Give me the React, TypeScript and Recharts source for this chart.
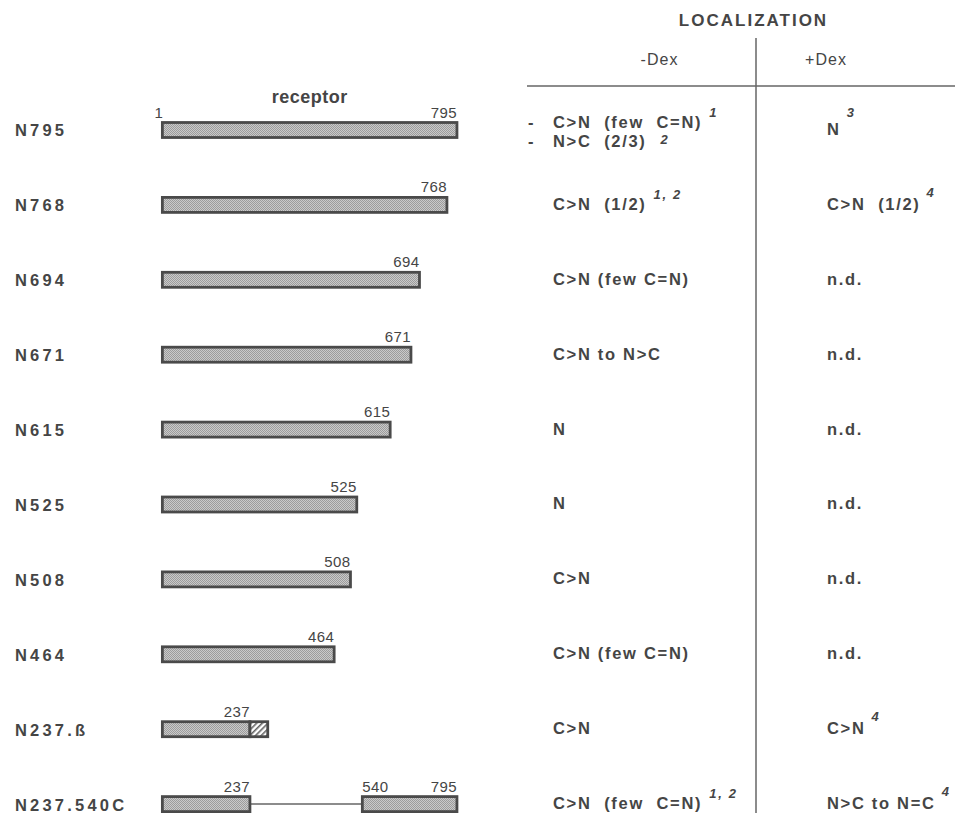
import React from 'react';
import { BarChart, Bar, XAxis, YAxis, LabelList } from 'recharts';

// ---------- data ----------
const constructs = ['N795', 'N768', 'N694', 'N671', 'N615', 'N525', 'N508', 'N464', 'N237.ß', 'N237.540C'];
const segmentStart = [1, 1, 1, 1, 1, 1, 1, 1, 1, 1];
const segmentEnd = [795, 768, 694, 671, 615, 525, 508, 464, 237, 237];
const betaEnd: (number | null)[] = [null, null, null, null, null, null, null, null, 285, null];
const fusionStart: (number | null)[] = [null, null, null, null, null, null, null, null, null, 540];
const fusionEnd: (number | null)[] = [null, null, null, null, null, null, null, null, null, 795];

const minusDexLines = [
  ['C>N  (few  C=N)', 'N>C  (2/3)'],
  ['C>N  (1/2)'],
  ['C>N (few C=N)'],
  ['C>N to N>C'],
  ['N'],
  ['N'],
  ['C>N'],
  ['C>N (few C=N)'],
  ['C>N'],
  ['C>N  (few  C=N)'],
];
const minusDexNotes = [['1', '2'], ['1, 2'], [''], [''], [''], [''], [''], [''], [''], ['1, 2']];
const plusDexText = ['N', 'C>N  (1/2)', 'n.d.', 'n.d.', 'n.d.', 'n.d.', 'n.d.', 'n.d.', 'C>N', 'N>C to N=C'];
const plusDexNotes = ['3', '4', '', '', '', '', '', '', '4', '4'];

const headerTitle = 'LOCALIZATION';
const columnTitles = ['-Dex', '+Dex'];
const barTitle = 'receptor';

// ---------- styles ----------
const FONT = '"Liberation Sans", Arial, Helvetica, sans-serif';
const TEXT = '#454545';
const EDGE = '#4a4a4a';

const data = constructs.map((name, i) => ({
  name,
  main: [segmentStart[i], segmentEnd[i]],
  beta: betaEnd[i] != null ? [segmentEnd[i], betaEnd[i]] : null,
  link: fusionStart[i] != null ? [segmentEnd[i], fusionStart[i]] : null,
  tail: fusionStart[i] != null ? [fusionStart[i], fusionEnd[i]] : null,
}));

const ok = (p: any) => p && Number.isFinite(p.x) && Number.isFinite(p.width) && p.width > 0;

const makeShape = (key: string, fill: string) => (p: any) => {
  if (!ok(p) || !p.payload || p.payload[key] == null) return <g />;
  return <rect x={p.x} y={p.y} width={p.width} height={p.height} fill={fill} stroke={EDGE} strokeWidth={2.8} />;
};

const linkShape = (p: any) => {
  if (!ok(p) || !p.payload || p.payload.link == null) return <g />;
  const cy = p.y + p.height / 2;
  return <line x1={p.x} y1={cy} x2={p.x + p.width} y2={cy} stroke="#666" strokeWidth={1.5} />;
};

const numStyle = { fontFamily: FONT, fontSize: 15, fill: TEXT, letterSpacing: 0.4 } as const;

const mainLabel = (p: any) => {
  const i = constructs.indexOf(p.value);
  if (i < 0 || !ok(p)) return null;
  return (
    <g>
      <text x={p.x + p.width} y={p.y - 5} textAnchor="end" {...numStyle}>{segmentEnd[i]}</text>
      {i === 0 && (
        <>
          <text x={p.x + 1} y={p.y - 5} textAnchor="end" {...numStyle}>{segmentStart[i]}</text>
          <text x={p.x + p.width / 2} y={p.y - 20} textAnchor="middle" fontFamily={FONT} fontSize={18} fontWeight="bold" fill={TEXT} letterSpacing={0.5}>{barTitle}</text>
        </>
      )}
    </g>
  );
};

const tailLabel = (p: any) => {
  const i = constructs.indexOf(p.value);
  if (i < 0 || fusionStart[i] == null || !ok(p)) return null;
  return (
    <g>
      <text x={p.x} y={p.y - 5} textAnchor="start" {...numStyle}>{fusionStart[i]}</text>
      <text x={p.x + p.width} y={p.y - 5} textAnchor="end" {...numStyle}>{fusionEnd[i]}</text>
    </g>
  );
};

const cellStyle = { fontFamily: FONT, fontSize: 16.5, fontWeight: 'bold', fill: TEXT, letterSpacing: 1.7, whiteSpace: 'pre' } as any;
const noteProps = { fontSize: 13, fontStyle: 'italic', fontWeight: 'bold' } as any;

const RowTick = (props: any) => {
  const { y, payload } = props;
  const i = constructs.indexOf(payload.value);
  if (i < 0) return null;
  const lines = minusDexLines[i];
  const multi = lines.length > 1;
  return (
    <g>
      <text x={15} y={y + 6.5} fontFamily={FONT} fontSize={16.5} fontWeight="bold" fill={TEXT} letterSpacing={3.2}>{payload.value}</text>
      {lines.map((ln, k) => {
        const ly = multi ? y - 2 + k * 19 : y + 5;
        const note = minusDexNotes[i][k];
        return (
          <g key={k}>
            {multi && <text x={528} y={ly} style={cellStyle}>-</text>}
            <text x={553} y={ly} style={cellStyle}>
              {ln}
              {note ? (
                <tspan dx={multi && k === 1 ? 14 : 7} dy={multi && k === 1 ? -3 : -11} {...noteProps}>{note}</tspan>
              ) : null}
            </text>
          </g>
        );
      })}
      <text x={827} y={y + 5} style={cellStyle}>
        {plusDexText[i]}
        {plusDexNotes[i] ? (
          <tspan dx={6} dy={plusDexText[i] === 'N' ? -18 : -13} {...noteProps}>{plusDexNotes[i]}</tspan>
        ) : null}
      </text>
    </g>
  );
};

export default function App() {
  return (
    <div style={{ position: 'absolute', left: 0, top: 0, width: 955, height: 813, overflow: 'hidden', background: '#fff' }}>
      <BarChart
        width={955}
        height={850}
        data={data}
        layout="vertical"
        margin={{ top: 92.5, right: 51, bottom: 8.5, left: 12 }}
        barSize={15}
        barGap={-15}
      >
        <defs>
          <pattern id="stipple" width="2" height="2" patternUnits="userSpaceOnUse">
            <rect width="2" height="2" fill="#cacaca" />
            <rect width="1" height="1" fill="#9c9c9c" />
            <rect x="1" y="1" width="1" height="1" fill="#9c9c9c" />
          </pattern>
          <pattern id="hatch" width="4" height="4" patternUnits="userSpaceOnUse" patternTransform="rotate(-45)">
            <rect width="4" height="4" fill="#ffffff" />
            <rect width="4" height="1.6" fill="#666" />
          </pattern>
        </defs>
        <XAxis type="number" domain={[0, 2000]} hide />
        <YAxis type="category" dataKey="name" width={150} axisLine={false} tickLine={false} interval={0} tick={<RowTick />} />
        <Bar dataKey="link" isAnimationActive={false} shape={linkShape} />
        <Bar dataKey="main" isAnimationActive={false} shape={makeShape('main', 'url(#stipple)')}>
          <LabelList dataKey="name" content={mainLabel} />
        </Bar>
        <Bar dataKey="beta" isAnimationActive={false} shape={makeShape('beta', 'url(#hatch)')} />
        <Bar dataKey="tail" isAnimationActive={false} shape={makeShape('tail', 'url(#stipple)')}>
          <LabelList dataKey="name" content={tailLabel} />
        </Bar>
        <text x={753.5} y={26} textAnchor="middle" fontFamily={FONT} fontSize={17} fontWeight="bold" fill={TEXT} letterSpacing={2}>{headerTitle}</text>
        <text x={659.5} y={65} textAnchor="middle" fontFamily={FONT} fontSize={16} fill={TEXT} letterSpacing={1}>{columnTitles[0]}</text>
        <text x={826} y={65} textAnchor="middle" fontFamily={FONT} fontSize={16} fill={TEXT} letterSpacing={1}>{columnTitles[1]}</text>
        <line x1={756} y1={38} x2={756} y2={850} stroke="#666" strokeWidth={1.5} />
        <line x1={527} y1={86} x2={955} y2={86} stroke="#666" strokeWidth={1.5} />
      </BarChart>
    </div>
  );
}
